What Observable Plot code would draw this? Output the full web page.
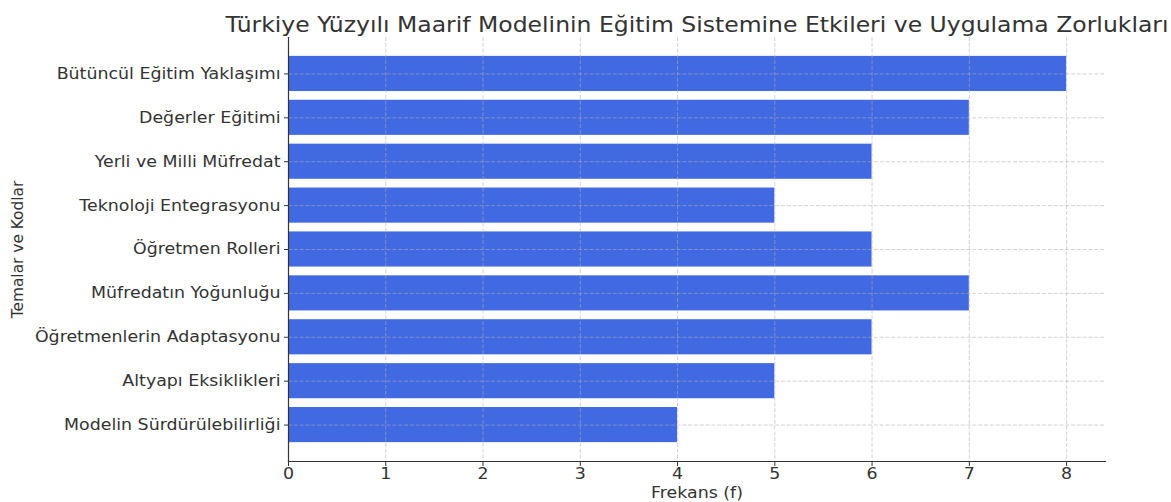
<!DOCTYPE html>
<html>
<head>
<meta charset="utf-8">
<script src="https://cdn.jsdelivr.net/npm/d3@7"></script>
<script src="https://cdn.jsdelivr.net/npm/@observablehq/plot@0.6"></script>
<style>
  html, body { margin: 0; padding: 0; background: #fff; }
  #chart svg { display: block; }
</style>
</head>
<body>
<div id="chart"></div>
<script>
const categories = [
  "Bütüncül Eğitim Yaklaşımı",
  "Değerler Eğitimi",
  "Yerli ve Milli Müfredat",
  "Teknoloji Entegrasyonu",
  "Öğretmen Rolleri",
  "Müfredatın Yoğunluğu",
  "Öğretmenlerin Adaptasyonu",
  "Altyapı Eksiklikleri",
  "Modelin Sürdürülebilirliği"
];
const values = [8, 7, 6, 5, 6, 7, 6, 5, 4];
const xTicks = [0, 1, 2, 3, 4, 5, 6, 7, 8];
const title = "Türkiye Yüzyılı Maarif Modelinin Eğitim Sistemine Etkileri ve Uygulama Zorlukları";
const xLabel = "Frekans (f)";
const yLabel = "Temalar ve Kodlar";

const data = categories.map((c, i) => ({category: c, value: values[i]}));
const ink = "#333";
const fs = 15.4;

const chart = Plot.plot({
  width: 1171,
  height: 502,
  marginLeft: 288,
  marginRight: 66,
  marginTop: 37,
  marginBottom: 41,
  style: {fontFamily: "DejaVu Sans", fontSize: fs + "px", color: ink, background: "#fff", overflow: "visible"},
  x: {domain: [0, 8.4], ticks: xTicks},
  y: {domain: categories, paddingInner: 0.2, paddingOuter: 0.43, round: false},
  marks: [
    Plot.barX(data, {x: "value", y: "category", fill: "#4169E1"}),
    Plot.gridX(xTicks, {stroke: "#b0b0b0", strokeOpacity: 0.7, strokeDasharray: "4,1.8", strokeWidth: 0.8}),
    Plot.gridY(categories, {stroke: "#b0b0b0", strokeOpacity: 0.7, strokeDasharray: "4,1.8", strokeWidth: 0.8}),
    Plot.axisX(xTicks, {tickSize: 5, tickPadding: 2, fontSize: fs, stroke: ink, fill: ink,
      label: xLabel, labelAnchor: "center", labelArrow: "none", labelOffset: 36}),
    Plot.axisY({tickSize: 4, tickPadding: 4, fontSize: fs, stroke: ink, fill: ink,
      label: yLabel, labelAnchor: "center", labelArrow: "none", labelOffset: 276}),
    Plot.frame({anchor: "left", stroke: ink, strokeWidth: 1.2}),
    Plot.frame({anchor: "bottom", stroke: ink, strokeWidth: 1.2}),
    Plot.text([title], {frameAnchor: "top", lineAnchor: "bottom", dy: -6, fontSize: 20.8, fill: ink, text: d => d})
  ]
});
document.getElementById("chart").appendChild(chart);

// The reference is stretched horizontally: widen horizontal texts to match.
const stretch = 1.13;
chart.querySelectorAll("text").forEach(t => {
  const tr = (t.getAttribute("transform") || "") + (t.parentNode.getAttribute && (t.parentNode.getAttribute("transform") || ""));
  if (tr.includes("rotate")) return;
  const w = t.getComputedTextLength();
  if (w > 0) {
    t.setAttribute("textLength", (w * stretch).toFixed(2));
    t.setAttribute("lengthAdjust", "spacingAndGlyphs");
  }
});
</script>
</body>
</html>
